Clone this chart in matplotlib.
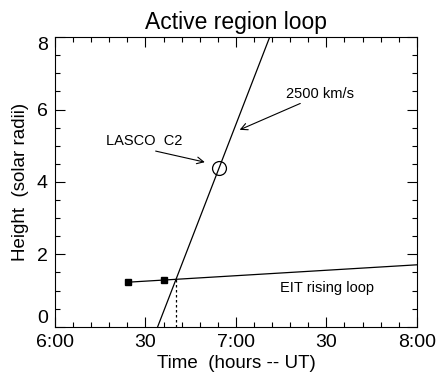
import numpy as np
import matplotlib
matplotlib.use("Agg")
import matplotlib.pyplot as plt
from matplotlib.ticker import MultipleLocator, FixedLocator, FixedFormatter

plt.rcParams['font.family'] = ['Liberation Sans', 'DejaVu Sans']

# times in minutes after 6:00 UT, heights in solar radii
eit_times = [24.3, 36.2]
eit_heights = [1.23, 1.28]
eit_fit_times = [24.3, 120.0]
eit_fit_heights = [1.23, 1.71]
lasco_time = 54.4
lasco_height = 4.38
speed_kms = 2500.0
rsun_km = 696000.0

tick_pos = [0, 30, 60, 90, 120]
tick_labels = ['6:00', '30', '7:00', '30', '8:00']
ytick_pos = [0, 2, 4, 6, 8]

fig = plt.figure(figsize=(4.36, 3.74), dpi=100)
ax = fig.add_axes([0.126, 0.1265, 0.83, 0.774])

# CME front line through the LASCO point at 2500 km/s
slope = speed_kms * 60.0 / rsun_km
t = np.array([lasco_time - 30, lasco_time + 30])
ax.plot(t, lasco_height + slope * (t - lasco_time), color='k', lw=0.9)
ax.plot([lasco_time], [lasco_height], 'o', ms=10, mfc='none', mec='k', mew=0.9)

# EIT rising loop
ax.plot(eit_fit_times, eit_fit_heights, color='k', lw=0.9)
ax.plot(eit_times, eit_heights, 's', ms=4, color='k')

# intersection, dashed drop to axis
eslope = (eit_fit_heights[1] - eit_fit_heights[0]) / (eit_fit_times[1] - eit_fit_times[0])
ti = (eit_fit_heights[0] - eslope * eit_fit_times[0] - lasco_height + slope * lasco_time) / (slope - eslope)
hi = eit_fit_heights[0] + eslope * (ti - eit_fit_times[0])
ax.plot([ti, ti], [0, hi], color='k', lw=0.9, ls=(0, (2, 2)))

arrow = dict(arrowstyle='->', color='k', lw=0.8, mutation_scale=12)
ax.annotate('', xy=(60.4, 5.41), xytext=(82.2, 6.2), arrowprops=arrow)
ax.text(87.8, 6.44, '2500 km/s', fontsize=10.5, ha='center', va='center')
ax.annotate('', xy=(50.6, 4.53), xytext=(32.5, 4.87), arrowprops=arrow)
ax.text(29.5, 5.14, 'LASCO  C2', fontsize=10.5, ha='center', va='center')
ax.text(74.5, 1.08, 'EIT rising loop', fontsize=10.5, ha='left', va='center')

ax.set_xlim(0, 120)
ax.set_ylim(0, 8)
ax.xaxis.set_major_locator(FixedLocator(tick_pos))
ax.xaxis.set_major_formatter(FixedFormatter(tick_labels))
ax.xaxis.set_minor_locator(MultipleLocator(6))
ax.yaxis.set_major_locator(FixedLocator(ytick_pos))
ax.yaxis.set_minor_locator(MultipleLocator(0.5))
ax.tick_params(which='both', direction='in', top=True, right=True, width=0.8)
ax.tick_params(which='major', length=7, labelsize=14, pad=5)
ax.tick_params(which='minor', length=3.5)
for s in ax.spines.values():
    s.set_linewidth(0.8)

# keep end labels of the y axis inside the box
yticks = ax.yaxis.get_major_ticks(len(ytick_pos))
yticks[0].label1.set_verticalalignment('bottom')
yticks[-1].label1.set_verticalalignment('top')

ax.set_title('Active region loop', fontsize=16.5, pad=6)
ax.set_xlabel('Time  (hours -- UT)', fontsize=13.5, labelpad=3)
ax.set_ylabel('Height  (solar radii)', fontsize=13.5, labelpad=6)

fig.savefig('out.png', dpi=100)
